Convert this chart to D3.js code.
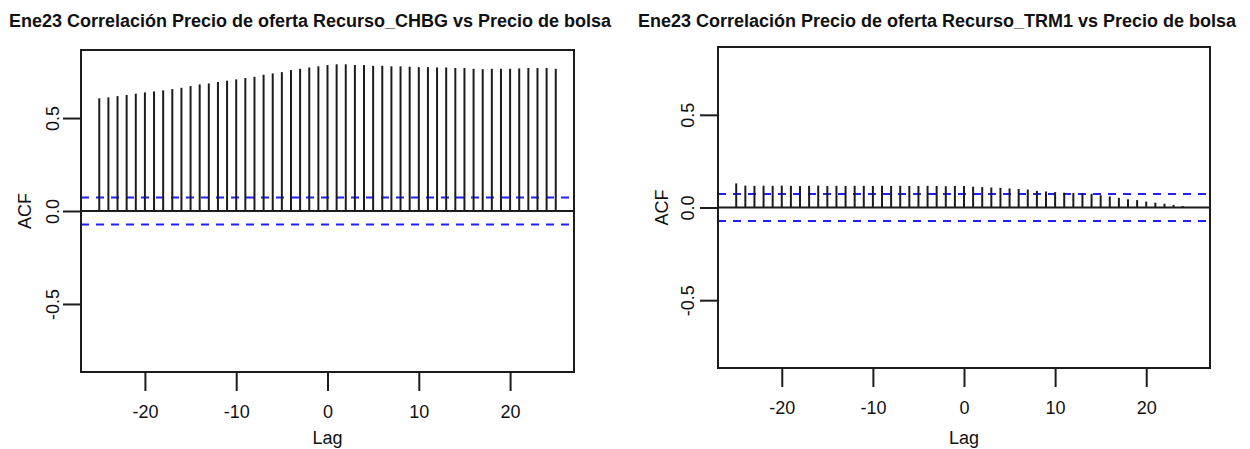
<!DOCTYPE html>
<html>
<head>
<meta charset="utf-8">
<script src="https://cdn.jsdelivr.net/npm/d3@7"></script>
<style>
  html, body { margin: 0; padding: 0; background: #fff; }
  svg { display: block; font-family: "Liberation Sans", Arial, Helvetica, sans-serif; }
</style>
</head>
<body>
<svg id="chart" width="1250" height="449"></svg>
<script>
// ---- Data ----
const lags = [-25,-24,-23,-22,-21,-20,-19,-18,-17,-16,-15,-14,-13,-12,-11,-10,-9,-8,-7,-6,-5,-4,-3,-2,-1,0,
              1,2,3,4,5,6,7,8,9,10,11,12,13,14,15,16,17,18,19,20,21,22,23,24,25];

const chbgAcf = [0.606,0.611,0.618,0.624,0.631,0.638,0.643,0.649,0.656,0.663,
                 0.672,0.681,0.686,0.694,0.701,0.708,0.715,0.722,0.733,0.740,
                 0.747,0.758,0.765,0.772,0.778,0.785,
                 0.789,0.789,0.785,0.785,0.781,0.781,0.778,0.778,0.776,0.774,
                 0.774,0.772,0.772,0.769,0.769,0.765,0.763,0.765,0.765,0.765,
                 0.767,0.769,0.769,0.769,0.765];

const trm1Acf = [0.130,0.118,0.117,0.118,0.117,0.118,0.117,0.116,0.117,0.118,
                 0.116,0.117,0.116,0.117,0.117,0.116,0.117,0.116,0.117,0.116,
                 0.116,0.117,0.116,0.115,0.116,0.116,
                 0.112,0.110,0.108,0.106,0.103,0.100,0.097,0.090,0.086,0.083,
                 0.080,0.078,0.076,0.074,0.066,0.060,0.052,0.045,0.040,0.032,
                 0.026,0.020,0.014,0.008,0.003];

const confLimit = 0.0725;           // +/- significance bound
const xTicks = [-20, -10, 0, 10, 20];
const yTicks = [-0.5, 0.0, 0.5];
const yTickLabels = ["-0.5", "0.0", "0.5"];
const titles = [
  "Ene23 Correlación Precio de oferta Recurso_CHBG vs Precio de bolsa",
  "Ene23 Correlación Precio de oferta Recurso_TRM1 vs Precio de bolsa"
];
const xLabel = "Lag";
const yLabel = "ACF";

// ---- Layout ----
const svg = d3.select("#chart");
const ink = "#1c1c1c";
const blue = "#2020ff";

const panels = [
  { values: chbgAcf, title: titles[0], left: 81, right: 574, top: 50, bottom: 372, titleX: 310, ylabX: 25, ytickOff: 28 },
  { values: trm1Acf, title: titles[1], left: 718, right: 1210, top: 47, bottom: 368, titleX: 937, ylabX: 662, ytickOff: 30 }
];

panels.forEach(p => {
  const x = d3.scaleLinear().domain([-27, 27]).range([p.left, p.right]);
  const y = d3.scaleLinear().domain([-0.866, 0.866]).range([p.bottom, p.top]);
  const g = svg.append("g");

  // title
  g.append("text")
    .attr("x", p.titleX).attr("y", 27)
    .attr("text-anchor", "middle")
    .attr("font-weight", "bold")
    .attr("font-size", 18)
    .attr("fill", "#111")
    .text(p.title);

  // confidence bounds
  [confLimit, -confLimit].forEach(c => {
    g.append("line")
      .attr("x1", p.left).attr("x2", p.right)
      .attr("y1", y(c)).attr("y2", y(c))
      .attr("stroke", blue).attr("stroke-width", 2)
      .attr("stroke-dasharray", "8,7");
  });

  // zero line
  g.append("line")
    .attr("x1", p.left).attr("x2", p.right)
    .attr("y1", y(0)).attr("y2", y(0))
    .attr("stroke", ink).attr("stroke-width", 2);

  // ACF spikes
  g.selectAll("line.spike")
    .data(lags.map((l, i) => ({ lag: l, v: p.values[i] })))
    .join("line")
    .attr("class", "spike")
    .attr("x1", d => x(d.lag)).attr("x2", d => x(d.lag))
    .attr("y1", y(0)).attr("y2", d => y(d.v))
    .attr("stroke", ink).attr("stroke-width", 2);

  // box
  g.append("rect")
    .attr("x", p.left).attr("y", p.top)
    .attr("width", p.right - p.left).attr("height", p.bottom - p.top)
    .attr("fill", "none").attr("stroke", ink).attr("stroke-width", 2);

  // x axis
  const xa = g.append("g")
    .attr("transform", `translate(0,${p.bottom})`)
    .call(d3.axisBottom(x).tickValues(xTicks).tickSize(19).tickPadding(14).tickFormat(d3.format("d")));
  xa.select(".domain").remove();
  xa.selectAll(".tick line").attr("stroke", ink).attr("stroke-width", 2);
  xa.selectAll(".tick text")
    .attr("font-size", 18).attr("fill", "#111")
    .attr("font-family", "Liberation Sans, Arial, sans-serif")
    .text((d) => d < 0 ? "-" + Math.abs(d) : String(d));

  // y axis
  const ya = g.append("g")
    .attr("transform", `translate(${p.left},0)`)
    .call(d3.axisLeft(y).tickValues(yTicks).tickSize(18).tickFormat((d, i) => yTickLabels[i]));
  ya.select(".domain").remove();
  ya.selectAll(".tick line").attr("stroke", ink).attr("stroke-width", 2);
  ya.selectAll(".tick text")
    .attr("font-size", 18).attr("fill", "#111")
    .attr("font-family", "Liberation Sans, Arial, sans-serif")
    .attr("x", null).attr("dy", null)
    .attr("text-anchor", "middle")
    .attr("transform", `translate(${-p.ytickOff},0) rotate(-90)`)
    .attr("dy", "0.35em");

  // axis labels
  g.append("text")
    .attr("x", x(0)).attr("y", 444)
    .attr("text-anchor", "middle")
    .attr("font-size", 18).attr("fill", "#111")
    .text(xLabel);

  g.append("text")
    .attr("transform", `translate(${p.ylabX},${y(0)}) rotate(-90)`)
    .attr("text-anchor", "middle")
    .attr("dy", "0.35em")
    .attr("font-size", 18).attr("fill", "#111")
    .text(yLabel);
});
</script>
</body>
</html>
